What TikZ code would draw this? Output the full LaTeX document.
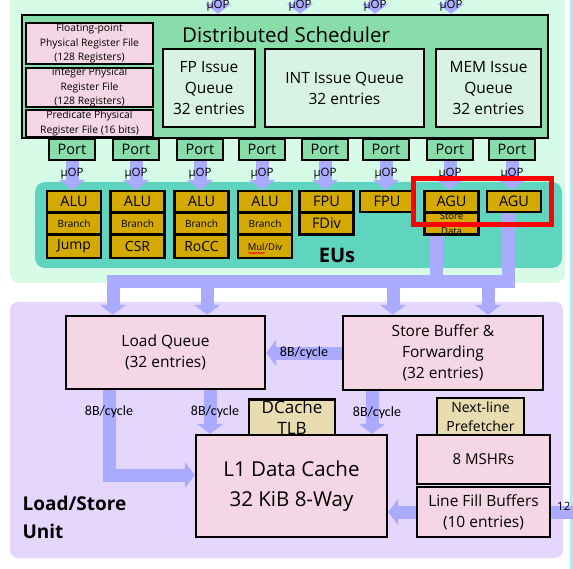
\documentclass[tikz,border=0pt]{standalone}
\usepackage{fontspec}
\setmainfont{Open Sans}
\newfontfamily\calfont{Carlito}
\usetikzlibrary{arrows.meta}
\usetikzlibrary{positioning}
\usetikzlibrary{decorations.pathmorphing}

\definecolor{mintbg}{RGB}{214,252,232}
\definecolor{schedgreen}{RGB}{136,221,170}
\definecolor{queuegreen}{RGB}{216,243,227}
\definecolor{regpink}{RGB}{245,214,228}
\definecolor{euteal}{RGB}{95,212,191}
\definecolor{eugold}{RGB}{212,170,0}
\definecolor{lsulav}{RGB}{228,214,253}
\definecolor{bandblue}{RGB}{170,170,255}
\definecolor{tlbtan}{RGB}{232,220,176}
\definecolor{edgecyan}{RGB}{176,234,248}

\tikzset{
  box/.style={draw=black, line width=2.4pt, inner sep=0pt, align=center},
  regfile/.style={box, fill=regpink, minimum width=127pt, font=\fontsize{10.3}{14.5}\selectfont},
  queue/.style={box, fill=queuegreen, minimum height=78pt, font=\fontsize{15.5}{21}\selectfont},
  port/.style={box, fill=schedgreen, minimum width=46pt, minimum height=21pt, font=\fontsize{14.5}{14.5}\selectfont},
  eubox/.style={box, fill=eugold, minimum width=54pt},
  alu/.style={eubox, minimum height=21pt, font=\fontsize{14.5}{14.5}\selectfont},
  branch/.style={eubox, minimum height=22pt, font=\fontsize{10}{10}\selectfont},
  extra/.style={eubox, minimum height=23pt, font=\fontsize{14}{14}\selectfont},
  lsubox/.style={box, fill=regpink, font=\fontsize{15.5}{21}\selectfont},
  tanbox/.style={box, fill=tlbtan, minimum height=37pt},
  uop/.style={draw=bandblue, line width=13pt, -{Triangle[width=26pt,length=10pt]}},
  band/.style={draw=bandblue, line width=13pt},
  uoplabel/.style={font=\fontsize{11.5}{11.5}\selectfont, inner sep=0pt, text=black},
  rate/.style={font=\calfont\fontsize{14}{14}\selectfont, inner sep=0pt, text=black},
}

\begin{document}
\begin{tikzpicture}[x=1pt, y=-1pt]
    \useasboundingbox (0,0) rectangle (573,569);
    \fill[white] (0,0) rectangle (573,569);

    % backgrounds
    \fill[edgecyan] (570,0) rectangle (573,569);
    \fill[mintbg, rounded corners=10pt] (10,-12) rectangle (565,283);
    \fill[lsulav, rounded corners=8pt] (10,302) rectangle (563,558);

    % scheduler
    \node[box, fill=schedgreen, minimum width=526pt, minimum height=123pt] (sched) at (285,76.5) {};
    \node[font=\fontsize{20.5}{20.5}\selectfont] (schedname) at (286,35) {Distributed Scheduler};
    \node[regfile, minimum height=41pt] (fprf) at (89.5,43.5) {Floating-point\\Physical Register File\\(128 Registers)};
    \node[regfile, minimum height=39pt] (intrf) at (89.5,87.5) {Integer Physical\\Register File\\(128 Registers)};
    \node[regfile, minimum height=27pt] (predrf) at (89.5,123.5) {Predicate Physical\\Register File (16 bits)};
    \node[queue, minimum width=92pt] (fpq) at (209,88) {FP Issue\\Queue\\32 entries};
    \node[queue, minimum width=159pt] (intq) at (344.5,88) {INT Issue Queue\\32 entries};
    \node[queue, minimum width=105pt] (memq) at (488.5,88) {MEM Issue\\Queue\\32 entries};

    \node[port] (p1) at (72,149.5) {Port};
    \node[port] (p2) at (136,149.5) {Port};
    \node[port] (p3) at (200,149.5) {Port};
    \node[port] (p4) at (262,149.5) {Port};
    \node[port] (p5) at (325,149.5) {Port};
    \node[port] (p6) at (386,149.5) {Port};
    \node[port] (p7) at (450,149.5) {Port};
    \node[port] (p8) at (512,149.5) {Port};

    % execution units
    \fill[euteal, rounded corners=10pt] (35,182) rectangle (562,268);
    \node[alu] (alu1) at (74,201.5) {ALU};
    \node[branch] (br1) at (74,223.5) {Branch};
    \node[extra] (jmp) at (74,246.5) {Jump};
    \node[alu] (alu2) at (137.5,201.5) {ALU};
    \node[branch] (br2) at (137.5,223.5) {Branch};
    \node[extra] (csr) at (137.5,246.5) {CSR};
    \node[alu] (alu3) at (201.5,201.5) {ALU};
    \node[branch] (br3) at (201.5,223.5) {Branch};
    \node[extra] (rocc) at (201.5,246.5) {RoCC};
    \node[alu] (alu4) at (265,201.5) {ALU};
    \node[branch] (br4) at (265,223.5) {Branch};
    \node[extra, font=\fontsize{9.5}{9.5}\selectfont] (muldiv) at (265,246.5) {Mul/Div};
    \draw[red, line width=0.6pt, decorate, decoration={snake, amplitude=0.7pt, segment length=2.5pt}]
        ([xshift=-17pt,yshift=-6.5pt]muldiv.center) -- ([xshift=0pt,yshift=-6.5pt]muldiv.center);
    \node[alu] (fpu1) at (326.5,201.5) {FPU};
    \node[branch, font=\fontsize{14.5}{14.5}\selectfont] (fdiv) at (326.5,223.5) {FDiv};
    \node[alu] (fpu2) at (387,201.5) {FPU};
    \node[branch, font=\fontsize{9.5}{15}\selectfont] (stdata) at (451.5,223.5) {Store\\Data};
    \node[alu] (agu1) at (451.5,201.5) {AGU};
    \node[alu] (agu2) at (514,201.5) {AGU};
    \node[font=\bfseries\fontsize{20}{20}\selectfont] (eulabel) at (337,255) {EUs};

    % load/store unit
    \node[lsubox, minimum width=199pt, minimum height=73pt] (lq) at (165.5,352.5) {Load Queue\\(32 entries)};
    \node[lsubox, minimum width=200pt, minimum height=74pt] (sb) at (443,353) {Store Buffer \&\\Forwarding\\(32 entries)};
    \node[tanbox, minimum width=86pt, font=\fontsize{17}{21}\selectfont] (tlb) at (292,418) {DCache\\TLB};
    \node[lsubox, minimum width=191pt, minimum height=102pt, font=\fontsize{20.5}{30}\selectfont] (l1) at (291.5,486) {L1 Data Cache\\32 KiB 8-Way};
    \node[tanbox, minimum width=87pt, font=\fontsize{14}{19}\selectfont] (nlp) at (480.5,416.5) {Next-line\\Prefetcher};
    \node[lsubox, minimum width=133pt, minimum height=49pt, font=\fontsize{15}{15}\selectfont] (mshr) at (483.5,459.5) {8 MSHRs};
    \node[lsubox, minimum width=133pt, minimum height=50pt] (lfb) at (483.5,512) {Line Fill Buffers\\(10 entries)};
    \node[font=\bfseries\fontsize{19}{28}\selectfont, align=left, anchor=west] (lsulabel) at (19,517) {Load/Store\\Unit};

    % uops into the scheduler
    \coordinate (in1) at (218,0);
    \coordinate (in2) at (300,0);
    \coordinate (in3) at (375,0);
    \coordinate (in4) at (451,0);
    \draw[uop] (in1) -- (in1 |- sched.north) node[uoplabel, pos=0.42] {μOP};
    \draw[uop] (in2) -- (in2 |- sched.north) node[uoplabel, pos=0.42] {μOP};
    \draw[uop] (in3) -- (in3 |- sched.north) node[uoplabel, pos=0.42] {μOP};
    \draw[uop] (in4) -- (in4 |- sched.north) node[uoplabel, pos=0.42] {μOP};

    % ports to units
    \draw[uop] (p1.south) -- (p1.south |- alu1.north) node[uoplabel, pos=0.45] {μOP};
    \draw[uop] (p2.south) -- (p2.south |- alu2.north) node[uoplabel, pos=0.45] {μOP};
    \draw[uop] (p3.south) -- (p3.south |- alu3.north) node[uoplabel, pos=0.45] {μOP};
    \draw[uop] (p4.south) -- (p4.south |- alu4.north) node[uoplabel, pos=0.45] {μOP};
    \draw[uop] (p5.south) -- (p5.south |- fpu1.north) node[uoplabel, pos=0.45] {μOP};
    \draw[uop] (p6.south) -- (p6.south |- fpu2.north) node[uoplabel, pos=0.45] {μOP};
    \draw[uop] (p7.south) -- (p7.south |- agu1.north) node[uoplabel, pos=0.45] {μOP};
    \draw[uop] (p8.south) -- (p8.south |- agu2.north) node[uoplabel, pos=0.45] {μOP};

    % address / data bus down to the LSU
    \coordinate (busleft) at (107,282);
    \coordinate (busmid) at (436,282);
    \coordinate (busright) at (508,282);
    \draw[band] ([xshift=-15.5pt]stdata.south) -- (busmid) -- (busleft);
    \draw[band] ([xshift=-6pt]agu2.south) -- (busright) -- (busmid);
    \coordinate (tap1) at (113,282);
    \coordinate (tap2) at (207,282);
    \coordinate (tap3) at (393,282);
    \coordinate (tap4) at (488,282);
    \draw[uop] (tap1) -- (tap1 |- lq.north);
    \draw[uop] (tap2) -- (tap2 |- lq.north);
    \draw[uop] (tap3) -- (tap3 |- sb.north);
    \draw[uop] (tap4) -- (tap4 |- sb.north);

    \draw[red, line width=5pt] (413,179) rectangle (551,225);

    % inside the LSU
    \draw[uop] (sb.west) -- (sb.west -| lq.east) node[rate, midway] {8B/cycle};
    \draw[uop] ([xshift=-56.5pt]lq.south) |- ([yshift=11pt]l1.west) node[rate, pos=0.13] {8B/cycle};
    \draw[uop] ([xshift=44.5pt]lq.south) -- ([xshift=44.5pt]lq.south |- l1.north) node[rate, midway, xshift=5pt] {8B/cycle};
    \draw[uop] ([xshift=-71pt]sb.south) -- ([xshift=-71pt]sb.south |- l1.north) node[rate, midway, xshift=5pt] {8B/cycle};
    \draw[uop] (lfb.west) -- (lfb.west -| l1.east);
    \coordinate (fillin) at (573,512);
    \draw[band] (fillin) -- (lfb.east);
    \node[uoplabel, anchor=west] (fillrate) at (557,506) {12};
\end{tikzpicture}
\end{document}
